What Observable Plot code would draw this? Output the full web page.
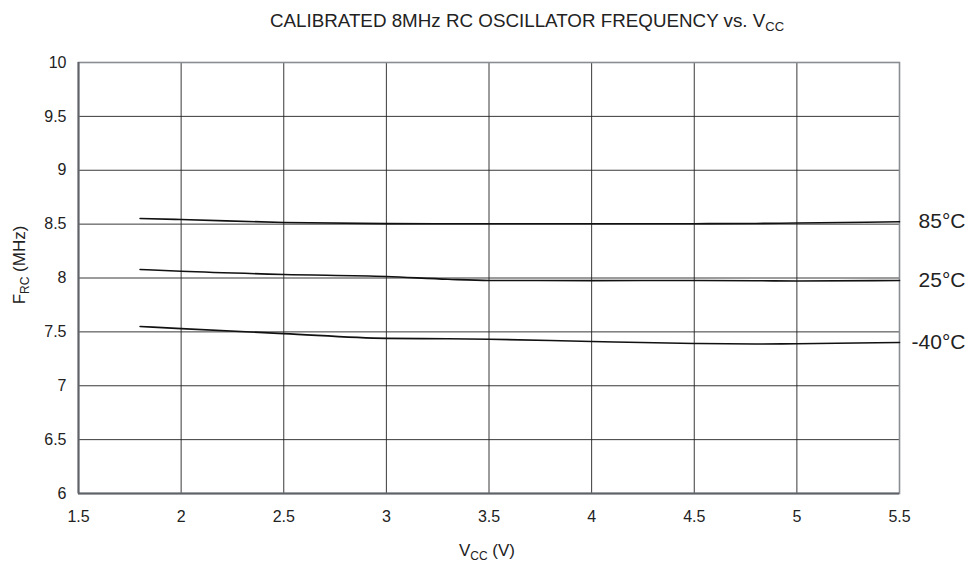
<!DOCTYPE html>
<html>
<head>
<meta charset="utf-8">
<script src="https://cdn.jsdelivr.net/npm/d3@7"></script>
<script src="https://cdn.jsdelivr.net/npm/@observablehq/plot@0.6"></script>
<style>
  body { margin: 0; background: #fff; font-family: "Liberation Sans", Arial, sans-serif; }
  #wrap { width: 978px; height: 563px; position: relative; }
  #title { position: absolute; top: 10px; left: 0; width: 978px; padding-left: 76px; box-sizing: border-box;
           text-align: center; font-size: 18.8px; line-height: 22px; color: #222; }
  #title sub { font-size: 13px; vertical-align: -4px; line-height: 0; }
  #chart { position: absolute; top: 44px; left: 0; }
  #chart svg g.ticklbl text { font-size: 16px !important; }
</style>
</head>
<body>
<div id="wrap">
  <div id="title">CALIBRATED 8MHz RC OSCILLATOR FREQUENCY vs. V<sub>CC</sub></div>
  <div id="chart"></div>
</div>
<script>
const vcc = [1.8, 2.0, 2.5, 3.0, 3.3, 3.5, 4.0, 4.5, 4.8, 5.0, 5.5];
const f85 = [8.552, 8.543, 8.515, 8.505, 8.504, 8.504, 8.503, 8.504, 8.506, 8.510, 8.522];
const f25 = [8.079, 8.062, 8.033, 8.014, 7.988, 7.977, 7.976, 7.977, 7.975, 7.972, 7.977];
const fm40 = [7.550, 7.530, 7.484, 7.440, 7.436, 7.432, 7.410, 7.392, 7.387, 7.390, 7.402];
const seriesNames = ["85°C", "25°C", "-40°C"];
const seriesValues = [f85, f25, fm40];
const xTicks = [1.5, 2, 2.5, 3, 3.5, 4, 4.5, 5, 5.5];
const yTicks = [6, 6.5, 7, 7.5, 8, 8.5, 9, 9.5, 10];

const rows = [];
seriesNames.forEach((s, i) => vcc.forEach((v, j) => rows.push({series: s, v, f: seriesValues[i][j]})));
const ends = seriesNames.map((s, i) => ({series: s, v: vcc[vcc.length - 1], f: seriesValues[i][vcc.length - 1]}));

const W = 978, H = 519;
const plot = Plot.plot({
  width: W, height: H,
  marginLeft: 78, marginRight: 79, marginTop: 18, marginBottom: 70,
  style: {fontFamily: "'Liberation Sans', Arial, sans-serif", fontSize: "15px", color: "#222", background: "#fff"},
  x: {domain: [1.5, 5.5], ticks: xTicks, tickFormat: d => String(d), label: null},
  y: {domain: [6, 10], ticks: yTicks, tickFormat: d => String(d), label: null},
  marks: [
    Plot.gridX(xTicks.slice(1, -1), {stroke: "#222", strokeOpacity: 1, strokeWidth: 0.9}),
    Plot.gridY(yTicks.slice(1, -1), {stroke: "#222", strokeOpacity: 1, strokeWidth: 0.9}),
    Plot.frame({stroke: "#8a8d93", strokeWidth: 1.6}),
    Plot.ruleX([1.5], {stroke: "#5f6369", strokeWidth: 2}),
    Plot.ruleY([6], {stroke: "#5f6369", strokeWidth: 2}),
    Plot.axisX({ticks: xTicks, tickSize: 0, tickPadding: 17, fontSize: 16, tickFormat: d => String(d)}),
    Plot.axisY({ticks: yTicks, tickSize: 0, tickPadding: 12, fontSize: 16, tickFormat: d => String(d)}),
    Plot.line(rows, {x: "v", y: "f", z: "series", stroke: "#111", strokeWidth: 1.6, curve: "monotone-x"}),
    Plot.text(ends, {x: "v", y: "f", text: "series", textAnchor: "end", dx: 66, dy: 0, fontSize: 21, fill: "#222"})
  ]
});
document.getElementById("chart").appendChild(plot);

const svg = d3.select(plot);
svg.selectAll("g").filter(function() {
  const a = this.getAttribute("aria-label") || "";
  return /tick label/.test(a);
}).classed("ticklbl", true).attr("font-size", 16);
// y axis label with subscript
const yl = svg.append("text")
  .attr("transform", "translate(25,221) rotate(-90)")
  .attr("text-anchor", "middle")
  .attr("fill", "#222")
  .style("font-size", "17px");
yl.append("tspan").text("F");
yl.append("tspan").attr("font-size", "12px").attr("dy", "4").text("RC");
yl.append("tspan").attr("dy", "-4").text(" (MHz)");
// x axis label
const xl = svg.append("text")
  .attr("x", 487).attr("y", 512)
  .attr("text-anchor", "middle")
  .attr("fill", "#222")
  .style("font-size", "17px");
xl.append("tspan").text("V");
xl.append("tspan").attr("font-size", "12px").attr("dy", "4").text("CC");
xl.append("tspan").attr("dy", "-4").text(" (V)");
</script>
</body>
</html>
